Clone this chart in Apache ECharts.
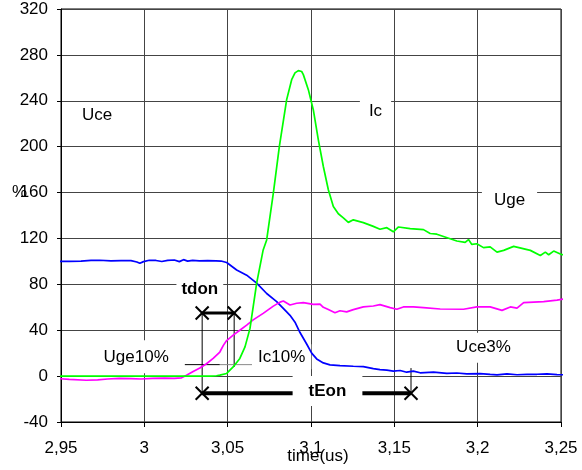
<!DOCTYPE html>
<html>
<head>
<meta charset="utf-8">
<script src="https://cdn.jsdelivr.net/npm/echarts@6/dist/echarts.min.js"></script>
<style>
  html, body { margin: 0; padding: 0; background: #fff; }
  #chart { width: 582px; height: 470px; }
</style>
</head>
<body>
<div id="chart"></div>
<script>
// Turn-on transient of an IGBT: Uce, Ic and Uge in percent over time (us)

const xTickLabels = ['2,95', '3', '3,05', '3,1', '3,15', '3,2', '3,25'];

// Uce (blue)
const uceTime = [2.9462, 2.955, 2.962, 2.968, 2.9732, 2.980, 2.986, 2.992, 2.9955, 2.9973, 2.9995,
  3.003, 3.007, 3.0105, 3.014, 3.018, 3.021, 3.0235, 3.026, 3.029, 3.033, 3.038, 3.043, 3.046,
  3.0494, 3.0554, 3.0614, 3.0674, 3.0734, 3.0794, 3.0854, 3.0874, 3.0904, 3.0934, 3.0974, 3.1004,
  3.1034, 3.1074, 3.1114, 3.1174, 3.1254, 3.1314, 3.1374, 3.1414, 3.1455, 3.1494, 3.1535, 3.1574,
  3.1614, 3.1655, 3.1735, 3.1815, 3.1875, 3.1935, 3.2015, 3.2075, 3.2116, 3.2176, 3.2236, 3.2296,
  3.2356, 3.2416, 3.2476, 3.2536];
const uceValue = [100, 100, 100.3, 100.8, 101, 100.5, 100.7, 100.6, 99.5, 98.3, 99.8,
  101, 100.8, 99.9, 100.9, 101.2, 99.8, 101.5, 100.2, 100.9, 100.4, 100.6, 100.5, 100.3,
  99, 92.5, 88, 81, 72, 65, 56, 53, 47, 38, 28, 20,
  15, 11.5, 9.8, 9.2, 8.6, 8.3, 6.5, 5.6, 5.2, 4.4, 4.9, 3.4,
  4.4, 2.9, 3.4, 2.4, 2.7, 2, 2.2, 1.5, 1.1, 2, 1.2, 1.5,
  1.6, 2, 1.3, 1.1];

// Uge (magenta)
const ugeTime = [2.9462, 2.955, 2.9652, 2.972, 2.978, 2.985, 2.992, 2.998, 3.005, 3.012, 3.018,
  3.0223, 3.0253, 3.0293, 3.0333, 3.0373, 3.0413, 3.0453, 3.0475, 3.0494, 3.0533, 3.0573, 3.0614,
  3.0653, 3.0713, 3.0774, 3.0814, 3.0834, 3.0874, 3.0914, 3.0954, 3.1014, 3.1054, 3.1074, 3.1104,
  3.1144, 3.1174, 3.1214, 3.1254, 3.1314, 3.1374, 3.1414, 3.1475, 3.1515, 3.1554, 3.1614, 3.1675,
  3.1775, 3.1915, 3.1995, 3.2075, 3.2146, 3.2196, 3.2236, 3.2276, 3.2396, 3.2476, 3.2536];
const ugeValue = [-2, -2.8, -3.6, -3.2, -2.5, -1.9, -2.2, -2.5, -2.0, -1.7, -1.9,
  -1.5, 0.8, 4, 7, 10.8, 15.4, 21, 27, 31, 35.7, 40, 44.5,
  49, 54.7, 61, 64.5, 65.5, 62, 63.5, 64, 62.5, 62.8, 60, 58,
  55.3, 57, 56, 58, 60.3, 61.1, 62.3, 59.7, 58.3, 60.3, 60.3, 59.7,
  58.5, 58.3, 60.3, 60.3, 57.3, 60.3, 59.2, 64, 65, 66.2, 67.8];

// Ic (green)
const icTime = [2.9462, 3.00, 3.04, 3.0433, 3.0453, 3.0494, 3.0533, 3.0573, 3.0604, 3.0634, 3.0674,
  3.0713, 3.0734, 3.0774, 3.0810, 3.0854, 3.0884, 3.0904, 3.0924, 3.0944, 3.0954, 3.0984, 3.1014,
  3.1044, 3.1074, 3.1104, 3.1134, 3.1164, 3.1194, 3.1224, 3.1254, 3.1314, 3.1374, 3.1414, 3.1455,
  3.1494, 3.1525, 3.1595, 3.1675, 3.1715, 3.1755, 3.1875, 3.1925, 3.1945, 3.1965, 3.1995, 3.2035,
  3.2075, 3.2116, 3.2156, 3.2216, 3.2316, 3.2376, 3.2406, 3.2426, 3.2456, 3.2506, 3.2536];
const icValue = [0, 0, 0, 0.3, 0.8, 2.3, 8, 15.4, 25.5, 41.6, 81,
  110, 118.7, 159.5, 200, 241, 258.4, 264.3, 266.3, 265.5, 262.8, 249.7, 232,
  206, 182.7, 162.4, 147.8, 141.5, 138, 134, 136.2, 133.8, 130.5, 128, 129.4,
  125.8, 130, 128.6, 127.7, 124.3, 123.7, 117.8, 116.6, 119, 114.8, 115.4, 112,
  112.6, 108.1, 109.6, 113.1, 109.6, 105.2, 108.1, 105.8, 109, 105.8, 106.5];

// Switching-time markers (time in us, level in %)
const tdonStart = 3.0347;   // Uge crosses 10 %
const tdonEnd = 3.0539;     // Ic crosses 10 %
const tdonLevel = 55;
const tEonEnd = 3.16;       // Uce falls to 3 %
const tEonLevel = -15;
const tenPercent = 10;
const tenPercentFrom = 3.0243;
const tenPercentSplit = 3.0453;
const tenPercentTo = 3.0646;
const uce3Level = 7;

// Annotation texts and where they sit (time, %)
const noteTexts = ['Uce', 'Ic', 'Uge', 'tdon', 'Uge10%', 'Ic10%', 'Uce3%', 'tEon'];
const noteTimes = [2.9717, 3.1387, 3.2191, 3.0333, 2.9951, 3.0824, 3.2035, 3.1099];
const noteValues = [227.5, 230.5, 153.6, 75.8, 16.8, 16.8, 24.8, -13.0];

const FONT = '"Liberation Sans", Arial, Helvetica, sans-serif';
const FS = 17;
const noteBold = [false, false, false, true, false, false, false, true];
const notePad = [[4, 6], [6, 9], [5, 12], [3, 5], [6, 6, 10, 6], [4, 6], [8, 6, 5, 6], [4, 16, 9, 16]];

function pairs(t, v) { return t.map((x, i) => [x, v[i]]); }

const chart = echarts.init(document.getElementById('chart'), null, { renderer: 'canvas' });

function seg(api, a, b, w, color) {
  const p1 = api.coord(a), p2 = api.coord(b);
  return { type: 'line', shape: { x1: p1[0], y1: p1[1], x2: p2[0], y2: p2[1] },
    style: { stroke: color, lineWidth: w } };
}
function cross(api, a) {
  const p = api.coord(a), h = 6.5;
  return [
    { type: 'line', shape: { x1: p[0] - h, y1: p[1] - h, x2: p[0] + h, y2: p[1] + h }, style: { stroke: '#000', lineWidth: 2 } },
    { type: 'line', shape: { x1: p[0] - h, y1: p[1] + h, x2: p[0] + h, y2: p[1] - h }, style: { stroke: '#000', lineWidth: 2 } }
  ];
}

const option = {
  animation: false,
  backgroundColor: '#fff',
  grid: {
    left: 61, right: 21, top: 9, bottom: 48,
    containLabel: false, outerBoundsMode: 'none',
    show: true, borderColor: '#000', borderWidth: 1
  },
  xAxis: {
    type: 'value', min: 2.95, max: 3.25, interval: 0.05,
    name: 'time(us)', nameLocation: 'middle', nameGap: 26, nameMoveOverlap: false,
    nameTextStyle: { fontFamily: FONT, fontSize: FS, color: '#000', padding: [0, 0, 0, 14] },
    axisLine: { show: true, onZero: false, lineStyle: { color: '#000', width: 1 } },
    axisTick: { show: true, length: 5, lineStyle: { color: '#000' } },
    splitLine: { show: true, lineStyle: { color: '#444', width: 1 } },
    axisLabel: {
      margin: 18, fontFamily: FONT, fontSize: FS, color: '#000',
      formatter: v => xTickLabels[Math.round((v - 2.95) / 0.05)]
    }
  },
  yAxis: {
    type: 'value', min: -40, max: 320, interval: 40,
    axisLine: { show: true, onZero: false, lineStyle: { color: '#000', width: 1 } },
    axisTick: { show: true, length: 4, lineStyle: { color: '#000' } },
    splitLine: { show: true, lineStyle: { color: '#444', width: 1 } },
    axisLabel: { margin: 13, fontFamily: FONT, fontSize: FS, color: '#000' }
  },
  series: [
    {
      type: 'custom', z: 3, silent: true, clip: false,
      data: [[tdonStart, tdonLevel]],
      renderItem: (params, api) => ({
        type: 'group',
        children: [
          seg(api, [tdonStart, tdonLevel], [tdonStart, tEonLevel], 1, '#000'),
          seg(api, [tdonEnd, tdonLevel], [tdonEnd, uce3Level + 1], 1, '#000'),
          seg(api, [tEonEnd, uce3Level], [tEonEnd, tEonLevel], 1, '#000'),
          seg(api, [tenPercentFrom, tenPercent], [tenPercentSplit, tenPercent], 1, '#000'),
          seg(api, [tenPercentSplit, tenPercent], [tenPercentTo, tenPercent], 1, '#8a8a8a'),
          seg(api, [tdonStart, tdonLevel], [tdonEnd, tdonLevel], 3, '#000'),
          seg(api, [tdonStart, tEonLevel], [tEonEnd, tEonLevel], 4, '#000'),
          ...cross(api, [tdonStart, tdonLevel]),
          ...cross(api, [tdonEnd, tdonLevel]),
          ...cross(api, [tdonStart, tEonLevel]),
          ...cross(api, [tEonEnd, tEonLevel])
        ]
      })
    },
    {
      type: 'custom', z: 4, silent: true, clip: false,
      data: noteTexts.map((s, i) => [noteTimes[i], noteValues[i], i]),
      renderItem: (params, api) => {
        const i = params.dataIndex;
        const p = api.coord([api.value(0), api.value(1)]);
        return {
          type: 'text', x: p[0], y: p[1],
          style: {
            text: noteTexts[i],
            font: (noteBold[i] ? 'bold ' : '') + FS + 'px ' + FONT,
            fill: '#000', align: 'center', verticalAlign: 'middle',
            backgroundColor: '#fff', padding: notePad[i]
          }
        };
      }
    },
    { name: 'Uce', type: 'line', z: 5, clip: false, showSymbol: false, data: pairs(uceTime, uceValue),
      lineStyle: { color: '#0000ff', width: 1.7 }, itemStyle: { color: '#0000ff' } },
    { name: 'Uge', type: 'line', z: 5, clip: false, showSymbol: false, data: pairs(ugeTime, ugeValue),
      lineStyle: { color: '#ff00ff', width: 1.7 }, itemStyle: { color: '#ff00ff' } },
    { name: 'Ic', type: 'line', z: 5, clip: false, showSymbol: false, data: pairs(icTime, icValue),
      lineStyle: { color: '#00ff00', width: 1.7 }, itemStyle: { color: '#00ff00' } }
  ]
};

chart.setOption(option);

// Unit of the vertical axis, level with the 160 tick
const yUnit = chart.convertToPixel({ yAxisIndex: 0 }, 160);
chart.setOption({
  graphic: [{
    type: 'text', left: 12, top: yUnit - 9, z: 10,
    style: { text: '%', font: FS + 'px ' + FONT, fill: '#000' }
  }]
});
</script>
</body>
</html>
